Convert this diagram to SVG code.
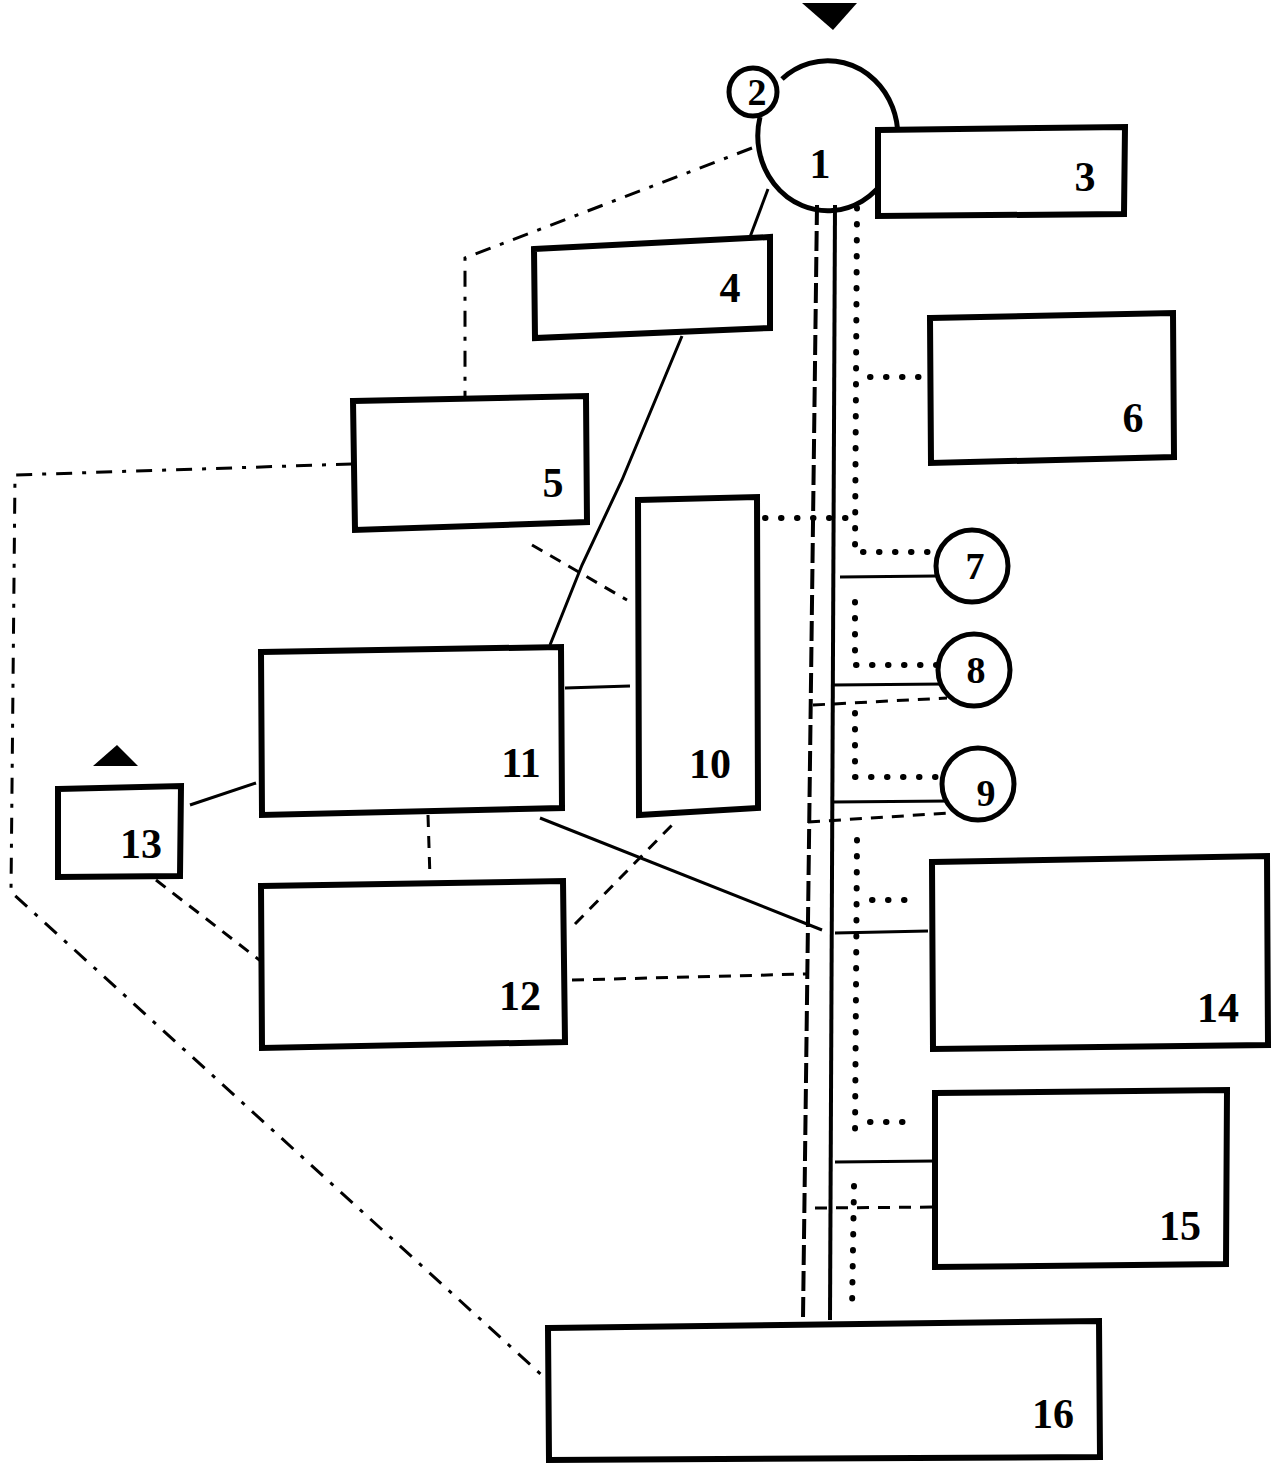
<svg xmlns="http://www.w3.org/2000/svg" width="1278" height="1464" viewBox="0 0 1278 1464">
<style>
.box{fill:#fff;stroke:#000;stroke-width:6;stroke-linejoin:miter}
.circ{fill:#fff;stroke:#000;stroke-width:5}
.lbl{font-family:"Liberation Serif","Times New Roman",serif;font-size:42px;font-weight:bold;fill:#000;text-anchor:middle}
.sm{font-size:38px}
.solid{fill:none;stroke:#000;stroke-width:3}
.trunk{fill:none;stroke:#000;stroke-width:4}
.dash{fill:none;stroke:#000;stroke-width:3;stroke-dasharray:12 9}
.dashdot{fill:none;stroke:#000;stroke-width:3;stroke-dasharray:16 10 4 10}
.ldash{fill:none;stroke:#000;stroke-width:4;stroke-dasharray:20 6}
.dot{fill:none;stroke:#000;stroke-width:6;stroke-linecap:round;stroke-dasharray:0.5 15.5}
</style>
<g id="connectors">
  <path class="ldash" d="M817 205 L803 1318"/>
  <path class="trunk" d="M835 205 L830 1320"/>
  <path class="dot" d="M857 208 L855 552 L938 552"/>
  <path class="dot" d="M870 377 L926 377"/>
  <path class="dot" d="M765 518 L853 518"/>
  <path class="dot" d="M855 602 L855 665 L937 665"/>
  <path class="dot" d="M855 713 L855 777 L945 777"/>
  <path class="dot" d="M857 840 L855 1137"/>
  <path class="dot" d="M872 900 L920 900"/>
  <path class="dot" d="M870 1122 L918 1122"/>
  <path class="dot" d="M854 1186 L852 1310"/>
  <path class="solid" d="M840 577 L937 576"/>
  <path class="solid" d="M832 685 L945 684"/>
  <path class="dash" d="M813 705 L947 698"/>
  <path class="solid" d="M832 802 L950 801"/>
  <path class="dash" d="M808 822 L950 813"/>
  <path class="solid" d="M835 933 L928 931"/>
  <path class="solid" d="M835 1162 L935 1161"/>
  <path class="dash" d="M815 1208 L935 1207"/>
  <path class="solid" d="M768 189 L750 237"/>
  <path class="solid" d="M682 336 L622 480 L582 565 L550 645"/>
  <path class="dashdot" d="M752 148 L465 258 L465 396"/>
  <path class="dashdot" d="M352 464 L15 475 L11 892 L545 1378"/>
  <path class="dash" d="M532 545 L627 600"/>
  <path class="solid" d="M565 688 L630 686"/>
  <path class="dash" d="M428 815 L430 878"/>
  <path class="dash" d="M575 924 L673 824"/>
  <path class="solid" d="M540 818 L822 930"/>
  <path class="dash" d="M572 980 L806 974"/>
  <path class="solid" d="M190 805 L256 783"/>
  <path class="dash" d="M156 880 L262 962"/>
  <polygon points="802,3 857,3 833,30" fill="#000"/>
  <polygon points="93,766 138,766 117,745" fill="#000"/>
</g>
<g id="node1">
  <path d="M760 117 A70 75 0 1 0 782 79" fill="none" stroke="#000" stroke-width="5"/>
  <text class="lbl" x="820" y="178">1</text>
</g>
<g id="node2">
  <circle class="circ" cx="753" cy="92" r="24"/>
  <text class="lbl sm" x="757" y="105">2</text>
</g>
<g id="node3">
  <path class="box" d="M878 130 L1125 127 L1124 214 L878 216 Z"/>
  <text class="lbl" x="1085" y="191">3</text>
</g>
<g id="node4">
  <path class="box" d="M534 249 L770 237 L770 328 L535 338 Z"/>
  <text class="lbl" x="730" y="302">4</text>
</g>
<g id="node5">
  <path class="box" d="M353 401 L586 396 L587 522 L355 530 Z"/>
  <text class="lbl" x="553" y="497">5</text>
</g>
<g id="node6">
  <path class="box" d="M930 318 L1173 313 L1174 457 L931 463 Z"/>
  <text class="lbl" x="1133" y="432">6</text>
</g>
<g id="node7">
  <circle class="circ" cx="972" cy="566" r="36"/>
  <text class="lbl sm" x="975" y="579">7</text>
</g>
<g id="node8">
  <circle class="circ" cx="974" cy="670" r="36"/>
  <text class="lbl sm" x="976" y="683">8</text>
</g>
<g id="node9">
  <circle class="circ" cx="978" cy="784" r="36"/>
  <text class="lbl sm" x="986" y="806">9</text>
</g>
<g id="node10">
  <path class="box" d="M638 500 L757 497 L758 808 L639 815 Z"/>
  <text class="lbl" x="710" y="778">10</text>
</g>
<g id="node11">
  <path class="box" d="M261 652 L561 647 L562 808 L262 815 Z"/>
  <text class="lbl" x="521" y="777">11</text>
</g>
<g id="node12">
  <path class="box" d="M261 886 L563 881 L565 1042 L262 1048 Z"/>
  <text class="lbl" x="520" y="1010">12</text>
</g>
<g id="node13">
  <path class="box" d="M58 789 L181 786 L180 876 L58 877 Z"/>
  <text class="lbl" x="141" y="858">13</text>
</g>
<g id="node14">
  <path class="box" d="M932 862 L1267 856 L1268 1045 L933 1049 Z"/>
  <text class="lbl" x="1218" y="1022">14</text>
</g>
<g id="node15">
  <path class="box" d="M935 1093 L1227 1090 L1226 1264 L935 1267 Z"/>
  <text class="lbl" x="1180" y="1240">15</text>
</g>
<g id="node16">
  <path class="box" d="M548 1328 L1099 1321 L1100 1457 L549 1460 Z"/>
  <text class="lbl" x="1053" y="1428">16</text>
</g>
</svg>
